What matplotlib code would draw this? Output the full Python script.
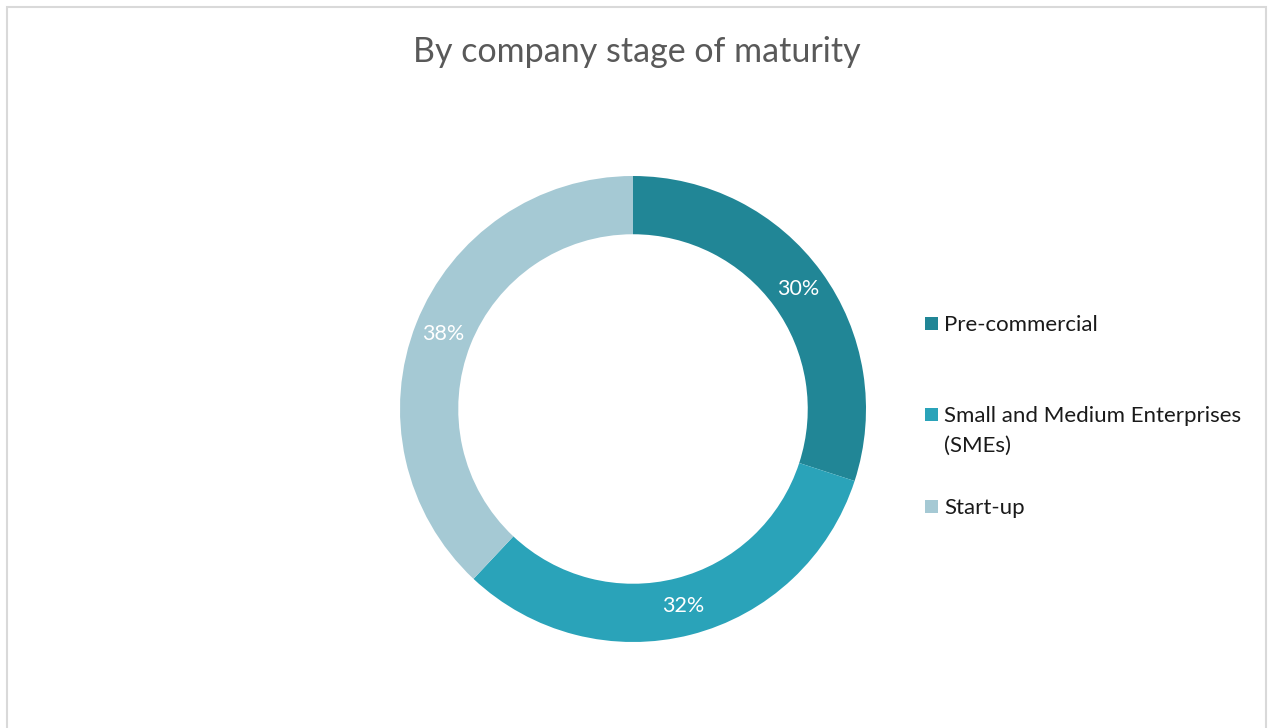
import matplotlib
matplotlib.use("Agg")
import matplotlib.pyplot as plt
from matplotlib.patches import Rectangle

plt.rcParams['font.family'] = ['Lato', 'DejaVu Sans']

title = "By company stage of maturity"
categories = ["Pre-commercial", "Small and Medium Enterprises\n(SMEs)", "Start-up"]
shares = [30, 32, 38]
colors = ["#218696", "#2AA3B9", "#A5C9D4"]

W, H = 1268, 728
fig = plt.figure(figsize=(W / 100, H / 100), dpi=100)
fig.patch.set_facecolor("white")

# light frame around the chart area
fig.add_artist(Rectangle((7 / W, -0.01), (1266 - 7) / W, (H - 7) / H + 0.01,
                         transform=fig.transFigure, fill=False,
                         edgecolor="#D9D9D9", linewidth=1.5))

fig.text(637 / W, 1 - 52 / H, title, ha="center", va="center",
         fontsize=24.5, color="#595959")

# donut
cx, cy, r = 633, 409, 233
ax = fig.add_axes([(cx - r) / W, (H - cy - r) / H, 2 * r / W, 2 * r / H])
wedges, _, autotexts = ax.pie(
    shares, colors=colors, startangle=90, counterclock=False,
    radius=1.0, wedgeprops=dict(width=0.25, edgecolor="none"),
    autopct=lambda p: f"{p:.0f}%", pctdistance=0.875,
    textprops=dict(color="white", fontsize=15.5))
ax.set_xlim(-1, 1)
ax.set_ylim(-1, 1)
ax.set_aspect("equal")
ax.axis("off")

# legend: square markers with labels, first-line baselines given in pixels
leg_base = [331, 422, 514]
for cat, col, yb in zip(categories, colors, leg_base):
    fig.add_artist(Rectangle((925 / W, 1 - (yb - 1) / H), 13 / W, 13 / H,
                             transform=fig.transFigure, facecolor=col,
                             edgecolor="none"))
    fig.text(944 / W, 1 - (yb - 16) / H, cat, ha="left", va="top",
             fontsize=16, color="#1A1A1A", linespacing=1.62)

fig.savefig("out.png", dpi=100, facecolor="white")
